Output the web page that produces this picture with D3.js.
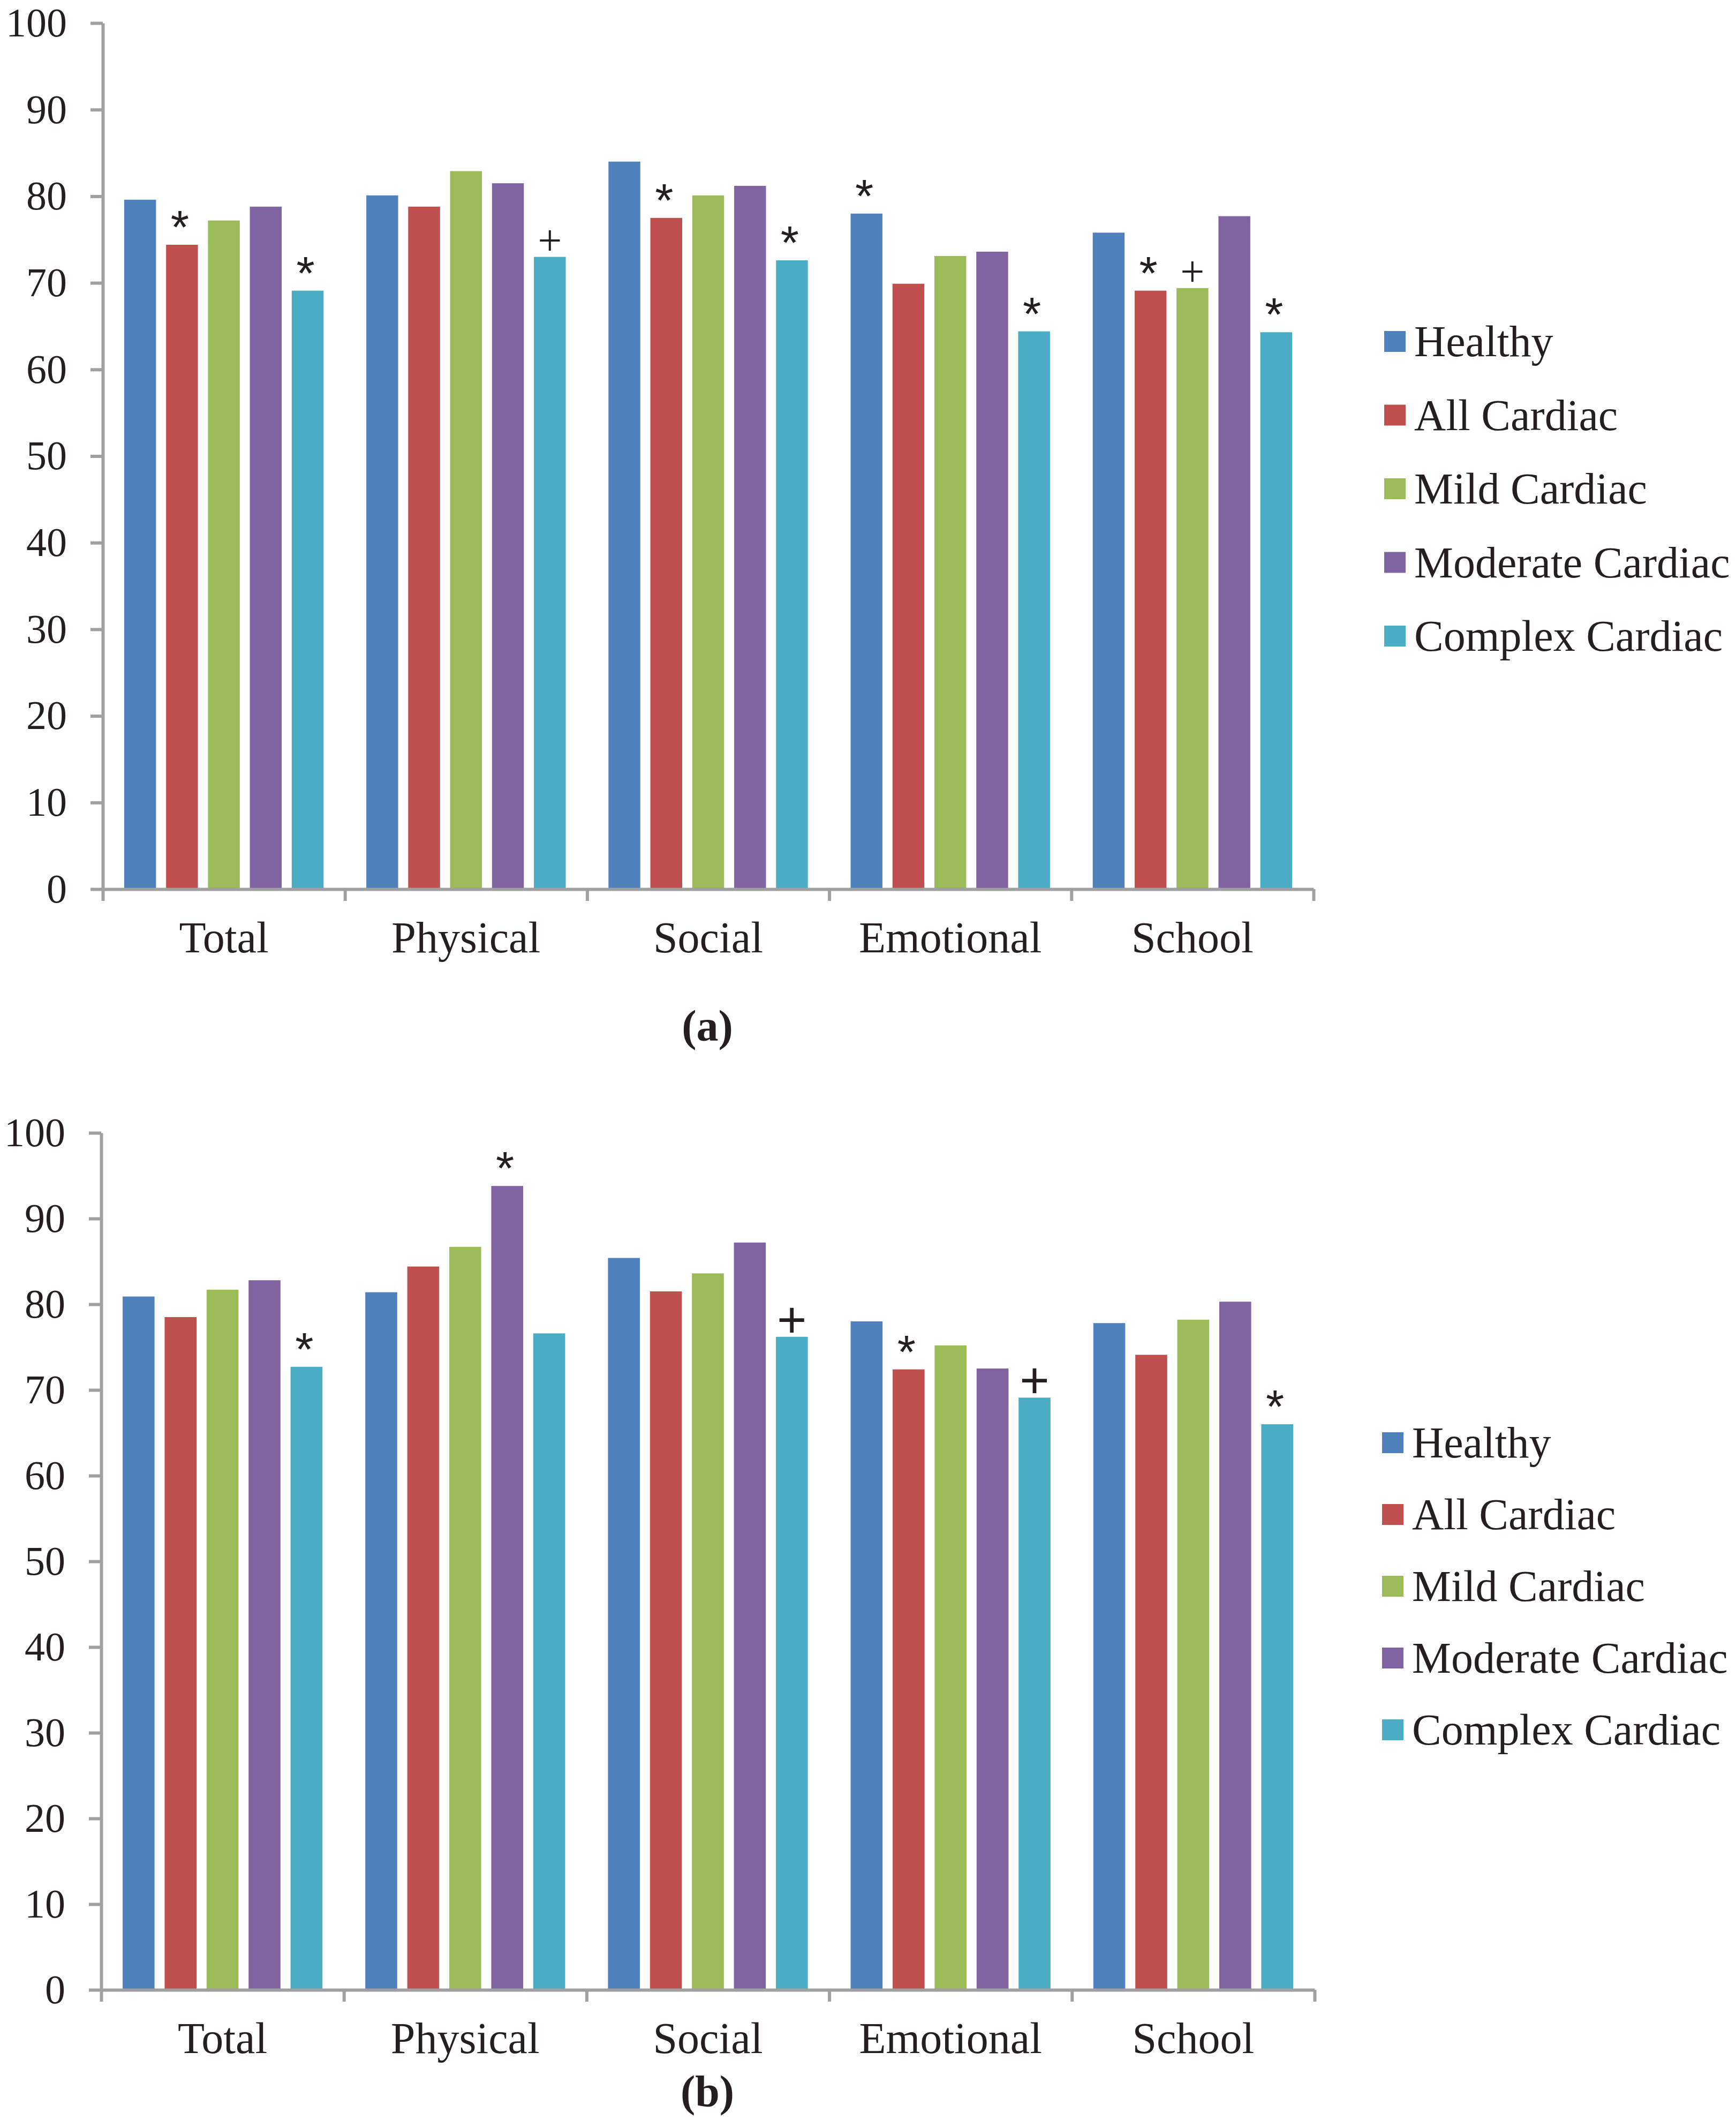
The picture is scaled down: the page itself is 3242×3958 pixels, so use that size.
<!DOCTYPE html>
<html>
<head>
<meta charset="utf-8">
<script src="https://cdn.jsdelivr.net/npm/d3@7.9.0/dist/d3.min.js"></script>
<style>
  body { margin: 0; background: #fff; }
  svg { display: block; }
  text { fill: #231f20; }
</style>
</head>
<body>
<div id="chart"></div>
<script>
// categories + groups
const categories = ['Total', 'Physical', 'Social', 'Emotional', 'School'];
const groups = ['Healthy', 'All Cardiac', 'Mild Cardiac', 'Moderate Cardiac', 'Complex Cardiac'];
const groupColors = ['#4f81bd', '#c0504d', '#9bbb59', '#8064a2', '#4bacc6'];
const yTickValues = [0, 10, 20, 30, 40, 50, 60, 70, 80, 90, 100];

// panel (a) scores, one array per group (category order)
const healthyA = [79.6, 80.1, 84.0, 78.0, 75.8];
const allCardiacA = [74.4, 78.8, 77.5, 69.9, 69.1];
const mildA = [77.2, 82.9, 80.1, 73.1, 69.4];
const moderateA = [78.8, 81.5, 81.2, 73.6, 77.7];
const complexA = [69.1, 73.0, 72.6, 64.4, 64.3];

// panel (b) scores
const healthyB = [80.9, 81.4, 85.4, 78.0, 77.8];
const allCardiacB = [78.5, 84.4, 81.5, 72.4, 74.1];
const mildB = [81.7, 86.7, 83.6, 75.2, 78.2];
const moderateB = [82.8, 93.8, 87.2, 72.5, 80.3];
const complexB = [72.7, 76.6, 76.2, 69.1, 66.0];

// significance marks (* / +) per group
const healthyMarksA = ['', '', '', '*', ''];
const allCardiacMarksA = ['*', '', '*', '', '*'];
const mildMarksA = ['', '', '', '', '+'];
const moderateMarksA = ['', '', '', '', ''];
const complexMarksA = ['*', '+', '*', '*', '*'];

const healthyMarksB = ['', '', '', '', ''];
const allCardiacMarksB = ['', '', '', '*', ''];
const mildMarksB = ['', '', '', '', ''];
const moderateMarksB = ['', '*', '', '', ''];
const complexMarksB = ['*', '', '+', '+', '*'];

function buildRows(valueArrays, markArrays) {
  const rows = [];
  categories.forEach((cat, ci) => {
    groups.forEach((g, gi) => {
      rows.push({ cat, group: g, value: valueArrays[gi][ci], mark: markArrays[gi][ci] });
    });
  });
  return rows;
}

const rowsA = buildRows(
  [healthyA, allCardiacA, mildA, moderateA, complexA],
  [healthyMarksA, allCardiacMarksA, mildMarksA, moderateMarksA, complexMarksA]
);
const rowsB = buildRows(
  [healthyB, allCardiacB, mildB, moderateB, complexB],
  [healthyMarksB, allCardiacMarksB, mildMarksB, moderateMarksB, complexMarksB]
);

const width = 3242;
const height = 3958;
const serif = '"Liberation Serif", "Times New Roman", serif';
const sans = '"Liberation Sans", Arial, sans-serif';
const axisColor = '#a0a0a0';

const svg = d3.select('#chart')
  .append('svg')
  .attr('width', width)
  .attr('height', height);

const color = d3.scaleOrdinal().domain(groups).range(groupColors);

function drawPanel(rows, cfg) {
  const g = svg.append('g');

  const x = d3.scaleBand()
    .domain(categories)
    .range([cfg.left, cfg.right]);

  const xInner = d3.scaleBand()
    .domain(groups)
    .range([0, x.bandwidth()])
    .paddingInner(0.24)
    .paddingOuter(0.51);

  const y = d3.scaleLinear()
    .domain([0, 100])
    .range([cfg.bottom, cfg.top]);

  // bars
  g.append('g')
    .selectAll('rect')
    .data(rows)
    .join('rect')
    .attr('x', (d) => x(d.cat) + xInner(d.group))
    .attr('y', (d) => y(d.value))
    .attr('width', xInner.bandwidth())
    .attr('height', (d) => y(0) - y(d.value))
    .attr('fill', (d) => color(d.group));

  // marks above bars
  g.append('g')
    .selectAll('text')
    .data(rows.filter((d) => d.mark))
    .join('text')
    .attr('x', (d) => x(d.cat) + xInner(d.group) + xInner.bandwidth() / 2 - (d.mark === '*' ? 4 : 0))
    .attr('y', (d) => y(d.value) + (d.mark === '*' ? -3 : cfg.plusShift))
    .attr('text-anchor', 'middle')
    .style('font-family', (d) => (d.mark === '*' ? sans : cfg.plusFont))
    .style('font-size', (d) => (d.mark === '*' ? '88px' : cfg.plusSize + 'px'))
    .text((d) => d.mark);

  // y axis
  const yAxis = g.append('g')
    .attr('transform', `translate(${cfg.left},0)`)
    .call(d3.axisLeft(y).tickValues(yTickValues).tickSize(23).tickSizeOuter(0).tickPadding(44));
  yAxis.select('.domain').attr('stroke', axisColor).attr('stroke-width', 6);
  yAxis.selectAll('.tick line').attr('stroke', axisColor).attr('stroke-width', 6);
  yAxis.selectAll('.tick text')
    .style('font-family', serif)
    .style('font-size', '76px')
    .attr('fill', '#231f20');

  // x axis: boundary ticks
  const xEdge = d3.scaleLinear().domain([0, categories.length]).range([cfg.left, cfg.right]);
  const xAxis = g.append('g')
    .attr('transform', `translate(0,${cfg.bottom})`)
    .call(d3.axisBottom(xEdge).tickValues(d3.range(categories.length + 1)).tickSize(22).tickSizeOuter(0).tickFormat(''));
  xAxis.select('.domain').attr('stroke', axisColor).attr('stroke-width', 6);
  xAxis.selectAll('.tick line').attr('stroke', axisColor).attr('stroke-width', 6);

  // category labels
  g.append('g')
    .selectAll('text')
    .data(categories)
    .join('text')
    .attr('x', (d) => x(d) + x.bandwidth() / 2)
    .attr('y', cfg.bottom + 118)
    .attr('text-anchor', 'middle')
    .style('font-family', serif)
    .style('font-size', '82px')
    .text((d) => d);

  // panel tag
  g.append('text')
    .attr('x', 1321)
    .attr('y', cfg.tagY)
    .attr('text-anchor', 'middle')
    .style('font-family', serif)
    .style('font-size', '82px')
    .style('font-weight', 'bold')
    .text(cfg.tag);

  // legend
  const legend = g.append('g')
    .selectAll('g')
    .data(groups)
    .join('g')
    .attr('transform', (d, i) => `translate(${cfg.legendX},${cfg.legendY + i * cfg.legendStep})`);

  legend.append('rect')
    .attr('x', 0)
    .attr('y', -20)
    .attr('width', 40)
    .attr('height', 39)
    .attr('fill', (d) => color(d));

  legend.append('text')
    .attr('x', 56)
    .attr('y', 27)
    .style('font-family', serif)
    .style('font-size', '82px')
    .text((d) => d);
}

drawPanel(rowsA, {
  top: 43, bottom: 1660, left: 192, right: 2453,
  tag: '(a)', tagY: 1943,
  legendX: 2585, legendY: 638, legendStep: 137.5,
  plusFont: serif, plusSize: 80, plusShift: -4,
});

drawPanel(rowsB, {
  top: 2115, bottom: 3715, left: 189, right: 2455,
  tag: '(b)', tagY: 3932,
  legendX: 2581, legendY: 2694, legendStep: 134,
  plusFont: sans, plusSize: 95, plusShift: 0,
});
</script>
</body>
</html>
